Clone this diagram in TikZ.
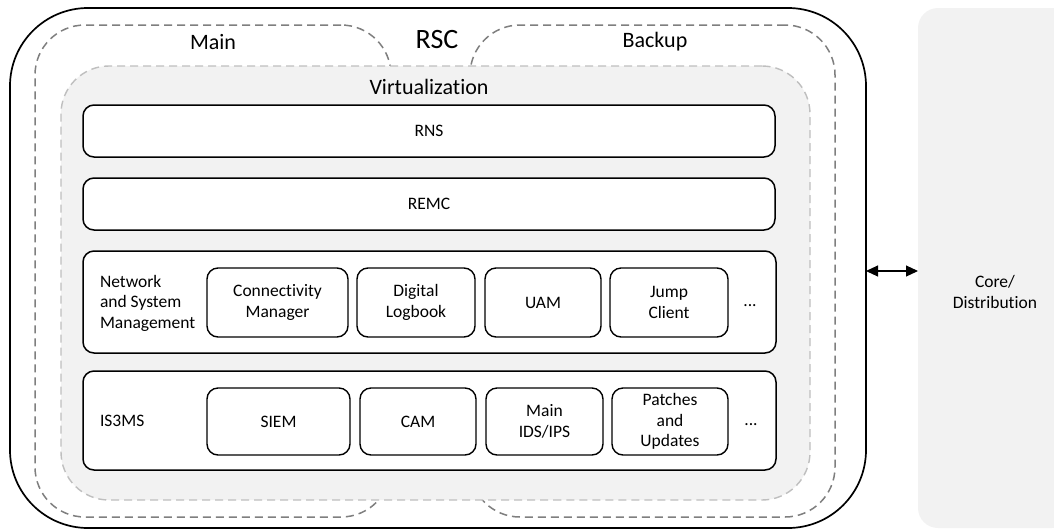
\documentclass[tikz,border=0pt]{standalone}
\usepackage{fontspec}
\setmainfont[Ligatures=NoCommon]{Carlito}
\usetikzlibrary{arrows.meta}
\definecolor{virtfill}{HTML}{F2F2F2}
\definecolor{virtline}{HTML}{BFBFBF}
\definecolor{siteline}{HTML}{7F7F7F}
\begin{document}
\begin{tikzpicture}[x=1pt,y=-1pt,
  every node/.style={inner sep=0pt, outer sep=0pt},
  rscbox/.style={draw=black, line width=1.7pt, fill=white, rounded corners=78pt},
  sitebox/.style={draw=siteline, line width=1.5pt, dash pattern=on 8pt off 5pt, rounded corners=50pt},
  virtbox/.style={draw=virtline, fill=virtfill, line width=1.4pt, dash pattern=on 8pt off 5pt, rounded corners=48pt},
  layerbox/.style={draw=black, fill=white, line width=1.5pt, rounded corners=11pt, font=\fontsize{17.5}{21}\selectfont},
  itembox/.style={draw=black, fill=white, line width=1.4pt, rounded corners=11pt, align=center, font=\fontsize{17.5}{20.5}\selectfont},
  smalltext/.style={font=\fontsize{17.5}{20.5}\selectfont},
  sitetext/.style={font=\fontsize{22}{26}\selectfont},
]
\useasboundingbox (0,0) rectangle (1054,531);
\begin{scope}
\clip (0,0) rectangle (1054,531);
% core / distribution block on the right
\node[fill=virtfill, rounded corners=20pt, minimum width=154pt, minimum height=520pt] (core) at (995,268) {};
\end{scope}
\node[smalltext, align=center] (coretext) at (995,292) {Core/\\Distribution};

% RSC enclosure
\node[rscbox, minimum width=856pt, minimum height=520pt] (rsc) at (438,268) {};
\node[font=\fontsize{28}{32}\selectfont] (rsctitle) at (437,40) {RSC};

% main and backup sites
\node[sitebox, minimum width=356pt, minimum height=492pt] (main) at (213,271) {};
\node[sitebox, minimum width=365pt, minimum height=492pt] (backup) at (652.5,271) {};
\node[sitetext] (maintitle) at (213,42) {Main};
\node[sitetext] (backuptitle) at (655,42) {Backup};

% virtualization layer
\node[virtbox, minimum width=749pt, minimum height=434pt] (virt) at (435.5,283) {};
\node[sitetext] (virttitle) at (429,87) {Virtualization};

% service layers
\node[layerbox, minimum width=692pt, minimum height=52pt] (rns) at (429,131) {RNS};
\node[layerbox, minimum width=692pt, minimum height=52pt] (remc) at (429,204) {REMC};
\node[layerbox, minimum width=693pt, minimum height=102pt] (nsm) at (429.5,302) {};
\node[layerbox, minimum width=693pt, minimum height=99pt] (is3ms) at (429.5,420.5) {};

% network and system management
\node[smalltext, align=left, anchor=west] (nsmlabel) at (100,303) {Network\\and System\\Management};
\node[itembox, minimum width=141pt, minimum height=69pt] (cm) at (277.5,302.5) {Connectivity\\Manager};
\node[itembox, minimum width=118pt, minimum height=69pt] (dl) at (416,302.5) {Digital\\Logbook};
\node[itembox, minimum width=116pt, minimum height=69pt] (uam) at (543,302.5) {UAM};
\node[itembox, minimum width=118pt, minimum height=69pt] (jc) at (669,302.5) {Jump\\Client};
\node[smalltext] (nsmmore) at (750,306) {...};

% IS3MS
\node[smalltext, anchor=west] (is3mslabel) at (100,421) {IS3MS};
\node[itembox, minimum width=143pt, minimum height=67pt] (siem) at (278.5,421.5) {SIEM};
\node[itembox, minimum width=116pt, minimum height=67pt] (cam) at (418,421.5) {CAM};
\node[itembox, minimum width=117pt, minimum height=67pt] (ids) at (544.5,421.5) {Main\\IDS/IPS};
\node[itembox, minimum width=116pt, minimum height=67pt] (pu) at (670,421.5) {Patches\\and\\Updates};
\node[smalltext] (is3msmore) at (751,425) {...};

% link between RSC and core
\coordinate (linky) at (0,271);
\draw[{Triangle[length=12pt,width=11pt]}-{Triangle[length=12pt,width=11pt]}, line width=1.1pt, draw=black, fill=black]
  (rsc.east |- linky) -- (core.west |- linky);
\end{tikzpicture}
\end{document}
